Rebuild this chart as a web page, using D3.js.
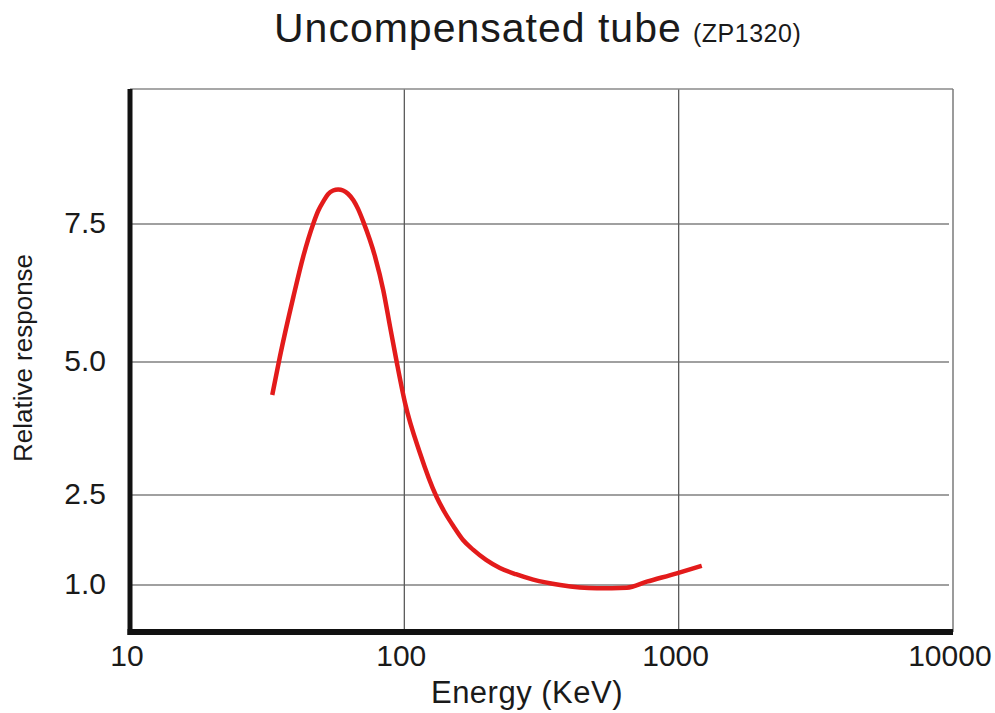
<!DOCTYPE html>
<html lang="en">
<head>
    <meta charset="UTF-8">
    <title>Uncompensated tube (ZP1320)</title>
    <script src="https://d3js.org/d3.v7.min.js"></script>
    <style>
        body { margin: 0; background: #fff; font-family: "Liberation Sans", Arial, sans-serif; }
        svg { display: block; }
        .grid line { stroke: #808080; stroke-width: 1.3; }
        .tick-label text { fill: #1a1a1a; }
    </style>
</head>
<body>
    <div id="chart"></div>

    <script>
        // Data (energy in KeV, relative response)
        const energyKeV = [33, 35.2, 39.4, 42.8, 46.6, 48.5, 50.7, 52.7, 55.0, 57.4, 59.8, 62.3, 65.2,
                           67.8, 70.9, 78.2, 83.8, 88.7, 93.8, 100.6, 114, 131, 140.8, 151, 163.7,
                           178, 198.6, 223, 255, 295, 370, 503, 647, 765, 984, 1214];
        const response = [4.38, 5.10, 6.18, 6.91, 7.51, 7.74, 7.92, 8.05, 8.12, 8.14, 8.12, 8.06, 7.94,
                          7.78, 7.54, 6.91, 6.30, 5.64, 5.0, 4.23, 3.29, 2.47, 2.20, 1.98, 1.75,
                          1.59, 1.42, 1.285, 1.18, 1.09, 1.00, 0.945, 0.955, 1.055, 1.195, 1.32];

        const xTickValues = [10, 100, 1000, 10000];
        const yTickValues = [1.0, 2.5, 5.0, 7.5];
        const yTickLabels = ["1.0", "2.5", "5.0", "7.5"];
        // the printed y axis is not evenly spaced, so the scale is piecewise
        const yAnchors = [0.2, 1.0, 2.5, 5.0, 7.5, 10];

        const width = 995, height = 713;
        const plot = {left: 130, right: 953, top: 89, bottom: 632};

        const svg = d3.select("#chart")
            .append("svg")
            .attr("width", width)
            .attr("height", height);

        const x = d3.scaleLog()
            .domain([10, 10000])
            .range([plot.left, plot.right]);

        const y = d3.scaleLinear()
            .domain(yAnchors)
            .range([632, 585, 495, 362, 224, 89]);

        // Grid lines
        const grid = svg.append("g").attr("class", "grid");
        grid.selectAll(".hgrid")
            .data(yTickValues)
            .enter()
            .append("line")
            .attr("x1", plot.left)
            .attr("x2", plot.right - 4)
            .attr("y1", d => y(d))
            .attr("y2", d => y(d));

        grid.selectAll(".vgrid")
            .data(xTickValues.slice(1, 3))
            .enter()
            .append("line")
            .attr("x1", d => x(d))
            .attr("x2", d => x(d))
            .attr("y1", plot.top)
            .attr("y2", plot.bottom)
            .style("stroke", "#5a5a5a");

        // top and right frame
        svg.append("line")
            .attr("x1", plot.left).attr("x2", plot.right)
            .attr("y1", plot.top).attr("y2", plot.top)
            .attr("stroke", "#8a8a8a").attr("stroke-width", 1.5);
        svg.append("line")
            .attr("x1", plot.right).attr("x2", plot.right)
            .attr("y1", plot.top).attr("y2", plot.bottom)
            .attr("stroke", "#7a7a7a").attr("stroke-width", 1.5);

        // Curve
        const points = energyKeV.map((e, i) => ({e: e, r: response[i]}));
        const line = d3.line()
            .x(d => x(d.e))
            .y(d => y(d.r))
            .curve(d3.curveMonotoneX);

        svg.append("path")
            .datum(points)
            .attr("d", line)
            .attr("fill", "none")
            .attr("stroke", "#e31b1b")
            .attr("stroke-width", 4.5);

        // thick black axes
        svg.append("line")
            .attr("x1", plot.left).attr("x2", plot.left)
            .attr("y1", plot.top).attr("y2", plot.bottom + 3)
            .attr("stroke", "#111").attr("stroke-width", 5);
        svg.append("line")
            .attr("x1", plot.left - 2.5).attr("x2", plot.right)
            .attr("y1", plot.bottom).attr("y2", plot.bottom)
            .attr("stroke", "#111").attr("stroke-width", 6);

        // Axis labels
        const xAxis = svg.append("g")
            .attr("class", "tick-label")
            .attr("transform", `translate(0,${plot.bottom})`)
            .call(d3.axisBottom(x)
                .tickValues(xTickValues)
                .tickFormat(d3.format("d"))
                .tickSize(0)
                .tickPadding(13));
        xAxis.select(".domain").remove();
        xAxis.selectAll("text")
            .style("font-size", "30px")
            .style("font-family", "'Liberation Sans', Arial, sans-serif")
            .attr("dx", "-0.12em");

        const yAxis = svg.append("g")
            .attr("class", "tick-label")
            .attr("transform", `translate(${plot.left},0)`)
            .call(d3.axisLeft(y)
                .tickValues(yTickValues)
                .tickFormat((d, i) => yTickLabels[i])
                .tickSize(0)
                .tickPadding(24));
        yAxis.select(".domain").remove();
        yAxis.selectAll("text")
            .style("font-size", "30px")
            .style("font-family", "'Liberation Sans', Arial, sans-serif")
            .attr("dy", "0.28em");

        // Titles
        const title = svg.append("text")
            .attr("x", 274)
            .attr("y", 42)
            .attr("fill", "#1a1a1a")
            .style("font-size", "41px")
            .style("letter-spacing", "1px");
        title.append("tspan").text("Uncompensated tube");
        title.append("tspan")
            .attr("x", 693)
            .style("font-size", "25px")
            .style("letter-spacing", "0.5px")
            .text("(ZP1320)");

        svg.append("text")
            .attr("x", 527)
            .attr("y", 703)
            .attr("text-anchor", "middle")
            .attr("fill", "#1a1a1a")
            .style("font-size", "31px")
            .style("letter-spacing", "0.5px")
            .text("Energy (KeV)");

        svg.append("text")
            .attr("transform", "translate(32,358) rotate(-90)")
            .attr("text-anchor", "middle")
            .attr("fill", "#1a1a1a")
            .style("font-size", "26px")
            .text("Relative response");
    </script>
</body>
</html>
